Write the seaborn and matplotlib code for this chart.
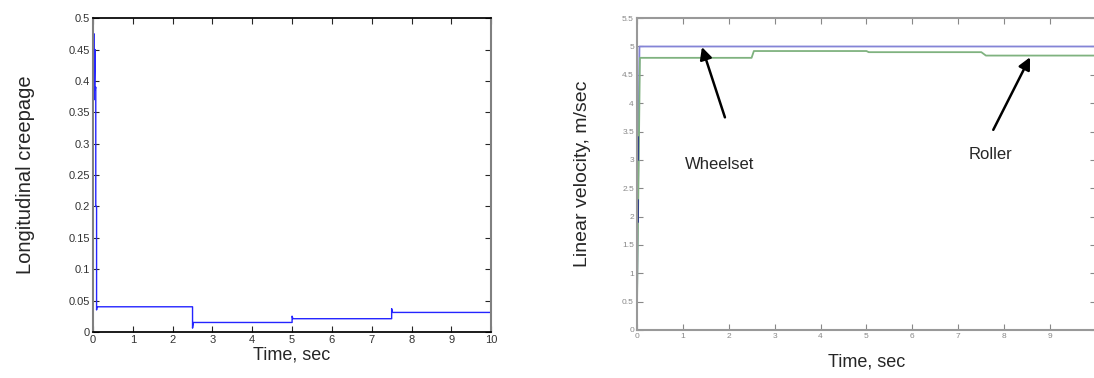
import seaborn as sns
import matplotlib.pyplot as plt
import pandas as pd
import numpy as np

# left panel: longitudinal creepage vs time
t_creep = [0.0, 0.01, 0.03, 0.03, 0.05, 0.05, 0.07, 0.07, 0.09, 0.09, 0.1,
           2.5, 2.5, 2.52, 5.0, 5.0, 5.02, 7.5, 7.5, 7.52, 10.0]
creep = [0.0, 0.475, 0.475, 0.37, 0.45, 0.385, 0.39, 0.2, 0.2, 0.035, 0.04,
         0.04, 0.006, 0.015, 0.015, 0.025, 0.021, 0.021, 0.037, 0.031, 0.031]

# right panel: linear velocity of wheelset and roller
t_wheel = [0.0, 0.05, 0.06, 10.0]
v_wheel = [0.0, 4.2, 5.0, 5.0]
t_roller = [0.0, 0.07, 0.1, 2.5, 2.55, 5.0, 5.05, 7.5, 7.6, 10.0]
v_roller = [0.0, 4.8, 4.8, 4.8, 4.92, 4.92, 4.9, 4.9, 4.84, 4.84]

left_yticks = [0, 0.05, 0.1, 0.15, 0.2, 0.25, 0.3, 0.35, 0.4, 0.45, 0.5]
right_yticks = [0, 0.5, 1, 1.5, 2, 2.5, 3, 3.5, 4, 4.5, 5, 5.5]
xticks = list(range(11))

sns.set_theme(style="ticks")
plt.rcParams['font.family'] = ['Liberation Sans', 'DejaVu Sans']
plt.rcParams['xtick.direction'] = 'in'
plt.rcParams['ytick.direction'] = 'in'

fig = plt.figure(figsize=(10.94, 3.78), dpi=100)
ax1 = fig.add_axes([0.085, 0.122, 0.364, 0.830])
ax2 = fig.add_axes([0.582, 0.127, 0.420, 0.825])

df_c = pd.DataFrame({'t': t_creep, 'c': creep})
sns.lineplot(data=df_c, x='t', y='c', ax=ax1, sort=False, estimator=None,
             color='#2424ff', linewidth=1.0)
ax1.set_xlim(0, 10)
ax1.set_ylim(0, 0.5)
ax1.set_xticks(xticks)
ax1.set_yticks(left_yticks)
ax1.set_yticklabels(['0', '0.05', '0.1', '0.15', '0.2', '0.25', '0.3', '0.35',
                     '0.4', '0.45', '0.5'])
ax1.tick_params(axis='both', labelsize=8, labelcolor='#333333', length=4,
                top=True, right=True, width=0.8, pad=2)
ax1.set_xlabel('Time, sec', fontsize=13, labelpad=1)
ax1.set_ylabel('Longitudinal creepage', fontsize=14.5, labelpad=24)
for side in ['top', 'bottom']:
    ax1.spines[side].set_color('black')
for side in ['left', 'right']:
    ax1.spines[side].set_color('#808080')
    ax1.spines[side].set_linewidth(1.5)

df_w = pd.DataFrame({'t': t_wheel, 'v': v_wheel})
df_r = pd.DataFrame({'t': t_roller, 'v': v_roller})
sns.lineplot(data=df_w, x='t', y='v', ax=ax2, sort=False, estimator=None,
             color='#8484d6', linewidth=1.3)
sns.lineplot(data=df_r, x='t', y='v', ax=ax2, sort=False, estimator=None,
             color='#7fb27f', linewidth=1.3)
ax2.plot([0.02, 0.02], [1.9, 2.3], color='#2a3a8a', linewidth=1.4)
ax2.plot([0.02, 0.02], [3.0, 3.4], color='#2a3a8a', linewidth=1.4)
ax2.set_xlim(0, 10)
ax2.set_ylim(0, 5.5)
ax2.set_xticks(xticks)
ax2.set_xticklabels([str(i) for i in range(10)] + [''])
ax2.set_yticks(right_yticks)
ax2.set_yticklabels(['0', '0.5', '1', '1.5', '2', '2.5', '3', '3.5', '4',
                     '4.5', '5', '5.5'])
ax2.tick_params(axis='both', labelsize=6, labelcolor='#888888', length=4,
                top=True, right=True, width=0.8, color='#888888', pad=2)
ax2.set_xlabel('Time, sec', fontsize=13, labelpad=10)
ax2.set_ylabel('Linear velocity, m/sec', fontsize=14, labelpad=22)
for side in ax2.spines:
    ax2.spines[side].set_color('#999999')
    ax2.spines[side].set_linewidth(1.5)

arrow = dict(arrowstyle='-|>', color='black', lw=1.8, shrinkA=0, shrinkB=0,
             mutation_scale=18)
ax2.annotate('', xy=(1.42, 4.99), xytext=(1.92, 3.75), arrowprops=arrow)
ax2.text(1.81, 2.92, 'Wheelset', fontsize=12, ha='center', va='center')
ax2.annotate('', xy=(8.56, 4.81), xytext=(7.76, 3.53), arrowprops=arrow)
ax2.text(7.69, 3.1, 'Roller', fontsize=12, ha='center', va='center')

fig.savefig('out.png', dpi=100)
